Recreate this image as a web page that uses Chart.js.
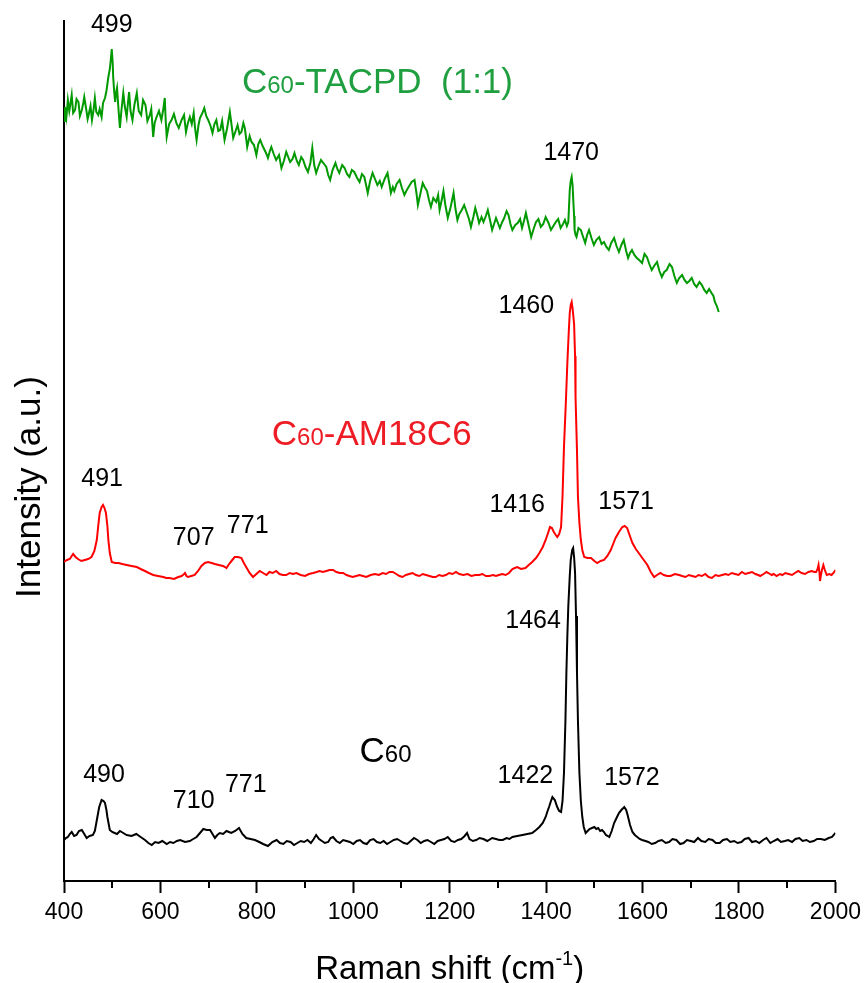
<!DOCTYPE html>
<html>
<head>
<meta charset="utf-8">
<script src="https://cdn.jsdelivr.net/npm/chart.js@4.4.1/dist/chart.umd.min.js"></script>
<style>
  html, body { margin: 0; padding: 0; background: #fff; }
  #wrap { width: 867px; height: 983px; position: relative; }
</style>
</head>
<body>
<div id="wrap"><canvas id="raman"></canvas></div>
<script>
// spectra as [Raman shift (cm-1), intensity (a.u.)]
// C60 (black)
const c60 = [
  [400,41],[404,43],[408,44],[412,47],[416,49],[421,45],[426,46],[431,50],[437,51],[442,47],
  [447,43],[453,45],[460,46],[464,50],[467,58],[470,66],[473,74],[478,81],[482,80],[485,78],
  [488,71],[490,64],[495,51],[500,49],[505,48],[510,47],[516,50],[523,48],[530,46],[540,45],
  [550,47],[559,44],[568,41],[575,38],[582,36],[589,39],[596,38],[604,40],[613,37],[620,39],
  [627,38],[634,40],[641,41],[651,39],[661,40],[668,42],[675,44],[682,48],[689,52],[696,51],
  [703,51],[708,47],[713,43],[718,46],[723,48],[730,47],[737,50],[742,49],[747,48],[755,50],
  [763,53],[770,47],[778,43],[787,42],[796,41],[805,39],[813,37],[818,36],[823,35],[832,39],
  [841,41],[848,38],[855,37],[862,40],[870,39],[877,36],[884,38],[891,40],[898,39],[905,41],
  [912,38],[918,42],[923,46],[929,42],[935,40],[941,38],[948,39],[953,43],[958,44],[965,40],
  [972,38],[979,41],[986,40],[993,39],[1000,37],[1007,40],[1014,41],[1021,38],[1028,37],[1035,41],
  [1042,42],[1049,39],[1056,38],[1063,40],[1070,37],[1077,39],[1084,41],[1091,42],[1098,40],[1105,38],
  [1112,37],[1119,40],[1126,43],[1133,41],[1140,38],[1147,40],[1154,41],[1161,39],[1168,37],[1175,40],
  [1182,41],[1189,42],[1196,44],[1203,40],[1210,39],[1217,41],[1224,42],[1231,45],[1236,48],[1241,42],
  [1248,40],[1255,41],[1262,43],[1270,42],[1278,40],[1288,43],[1296,42],[1303,41],[1310,41],[1318,43],
  [1324,42],[1330,44],[1340,45],[1351,46],[1361,47],[1371,48],[1379,51],[1386,54],[1393,58],[1399,64],
  [1403,70],[1406,74],[1410,80],[1413,84],[1418,81],[1423,74],[1427,70],[1431,69],[1434,80],[1437,108],
  [1440,160],[1442,208],[1444,245],[1446,275],[1449,305],[1451,321],[1454,331],[1456,333],[1458,324],[1460,308],
  [1462,265],[1464,208],[1466,160],[1469,108],[1472,80],[1475,64],[1478,54],[1482,48],[1486,50],[1490,52],
  [1495,53],[1500,54],[1504,52],[1508,53],[1512,50],[1516,51],[1520,49],[1524,46],[1528,45],[1531,44],
  [1536,50],[1541,58],[1546,63],[1551,68],[1556,71],[1562,74],[1566,71],[1569,66],[1574,56],[1579,49],
  [1584,46],[1589,44],[1594,42],[1599,41],[1606,40],[1612,39],[1619,37],[1626,38],[1633,40],[1640,41],
  [1648,38],[1655,39],[1662,42],[1670,41],[1678,37],[1685,38],[1692,41],[1700,40],[1707,39],[1715,43],
  [1722,40],[1730,39],[1737,42],[1745,41],[1752,38],[1760,38],[1767,41],[1775,42],[1782,39],[1790,40],
  [1797,38],[1805,39],[1812,42],[1820,43],[1827,39],[1835,40],[1842,38],[1850,41],[1857,43],[1865,38],
  [1872,40],[1880,42],[1887,39],[1895,40],[1902,41],[1910,39],[1917,42],[1925,43],[1932,40],[1940,41],
  [1947,39],[1955,40],[1962,42],[1970,42],[1978,41],[1986,43],[1993,44],[2000,48]
];

// C60-AM18C6 (red)
const am18c6 = [
  [400,319],[406,321],[412,322],[416,325],[419,327],[424,324],[429,322],[436,320],[443,321],[450,322],
  [457,324],[463,330],[468,341],[471,355],[474,368],[478,374],[481,376],[484,373],[487,368],[490,355],
  [492,341],[495,328],[499,319],[506,318],[513,318],[521,317],[530,316],[540,315],[551,314],[559,312],
  [568,310],[576,308],[585,306],[595,305],[606,304],[612,303],[619,303],[628,302],[637,304],[644,305],
  [649,307],[651,308],[654,305],[657,304],[664,305],[671,306],[678,310],[685,315],[692,318],[699,319],
  [706,318],[713,317],[721,316],[730,315],[734,314],[737,313],[741,316],[744,318],[749,321],[754,324],
  [761,324],[768,323],[773,318],[779,313],[785,308],[792,304],[799,307],[806,310],[813,308],[820,306],
  [826,309],[833,308],[840,310],[847,307],[854,306],[861,306],[868,308],[875,307],[882,308],[891,306],
  [900,305],[908,307],[917,308],[924,309],[930,310],[937,309],[944,310],[951,311],[958,311],[965,309],
  [972,308],[979,308],[986,306],[992,305],[999,304],[1006,305],[1013,306],[1020,305],[1027,304],[1036,306],
  [1045,307],[1053,306],[1061,308],[1068,307],[1075,309],[1082,309],[1089,307],[1096,305],[1102,304],[1109,306],
  [1116,307],[1123,308],[1130,306],[1137,305],[1144,307],[1151,306],[1158,305],[1165,304],[1171,304],[1178,306],
  [1185,305],[1192,306],[1199,308],[1206,307],[1213,309],[1220,307],[1228,306],[1237,307],[1245,305],[1253,306],
  [1261,306],[1268,307],[1275,305],[1282,305],[1290,306],[1296,305],[1302,306],[1309,307],[1316,306],[1323,308],
  [1330,312],[1335,313],[1340,314],[1348,312],[1357,313],[1364,316],[1371,319],[1379,323],[1386,328],[1393,334],
  [1399,341],[1404,348],[1408,354],[1412,353],[1416,349],[1420,346],[1423,344],[1427,347],[1431,354],[1434,385],
  [1437,434],[1441,480],[1444,518],[1447,550],[1449,568],[1451,576],[1453,579],[1455,572],[1458,557],[1460,525],
  [1461,484],[1464,430],[1466,384],[1469,358],[1472,341],[1475,331],[1479,324],[1486,323],[1493,323],[1500,320],
  [1506,318],[1513,320],[1520,321],[1527,325],[1534,331],[1539,337],[1544,343],[1551,349],[1558,354],[1563,355],
  [1568,353],[1573,346],[1579,338],[1586,332],[1592,328],[1601,322],[1610,316],[1617,309],[1624,304],[1630,306],
  [1637,308],[1644,306],[1651,305],[1658,305],[1667,307],[1676,306],[1682,305],[1689,304],[1696,306],[1703,305],
  [1710,304],[1716,306],[1723,305],[1730,307],[1737,304],[1744,303],[1751,306],[1758,305],[1765,306],[1772,307],
  [1778,306],[1785,308],[1792,307],[1799,306],[1806,309],[1813,307],[1820,308],[1827,309],[1834,307],[1840,306],
  [1844,305],[1851,307],[1857,309],[1861,308],[1868,306],[1872,307],[1878,305],[1885,307],[1890,306],[1896,308],
  [1903,307],[1910,306],[1916,308],[1923,310],[1930,308],[1937,307],[1944,309],[1951,310],[1956,309],[1960,309],
  [1963,312],[1965,316],[1967,308],[1968,300],[1970,306],[1972,311],[1975,316],[1978,311],[1982,306],[1987,307],
  [1992,306],[1996,308],[2000,311]
];

// C60-TACPD (1:1) (green)
const tacpd = [
  [400,760],[402,774],[405,764],[408,781],[411,770],[413,776],[416,786],[419,768],[423,771],[426,782],
  [430,779],[433,765],[437,771],[440,778],[442,784],[446,772],[449,762],[451,766],[455,775],[458,761],
  [461,770],[464,783],[467,769],[471,766],[474,772],[478,764],[481,778],[485,783],[488,790],[492,804],
  [495,812],[497,821],[499,832],[501,818],[502,804],[504,790],[506,779],[508,788],[510,793],[513,772],
  [516,753],[519,770],[523,788],[526,775],[530,764],[533,780],[535,789],[538,770],[542,761],[546,776],
  [551,788],[555,770],[560,766],[564,781],[569,776],[573,760],[578,766],[581,772],[585,744],[588,758],
  [592,764],[597,770],[602,761],[606,772],[609,783],[611,760],[613,744],[618,757],[623,761],[628,767],
  [633,758],[638,753],[644,761],[649,766],[653,749],[657,758],[661,764],[665,757],[669,768],[672,752],
  [675,741],[679,756],[682,763],[687,768],[691,773],[695,765],[699,761],[704,755],[708,748],[712,757],
  [716,761],[720,750],[724,751],[728,760],[733,741],[738,752],[744,769],[747,758],[751,743],[756,750],
  [760,756],[764,747],[768,749],[772,758],[775,753],[778,742],[780,734],[785,745],[789,739],[794,736],
  [799,726],[803,737],[807,741],[812,735],[816,731],[820,727],[823,723],[827,730],[830,734],[835,727],
  [840,721],[846,726],[851,713],[856,720],[861,729],[865,724],[869,719],[874,722],[878,728],[883,720],
  [887,716],[892,724],[896,721],[901,714],[906,709],[911,718],[915,733],[919,716],[923,708],[928,715],
  [933,721],[938,718],[944,714],[948,706],[952,701],[957,711],[963,718],[967,712],[971,708],[977,716],
  [982,713],[987,707],[992,704],[997,711],[1002,709],[1008,703],[1013,699],[1018,707],[1023,704],[1027,695],
  [1030,688],[1035,700],[1040,708],[1045,702],[1050,696],[1055,700],[1059,694],[1065,702],[1071,708],[1075,697],
  [1078,688],[1082,694],[1085,690],[1090,697],[1096,701],[1101,693],[1106,686],[1111,691],[1116,695],[1121,699],
  [1127,701],[1131,688],[1134,676],[1139,687],[1144,698],[1148,694],[1153,690],[1157,681],[1161,674],[1166,683],
  [1172,679],[1176,686],[1179,671],[1183,680],[1187,690],[1191,676],[1196,663],[1202,674],[1208,688],[1212,672],
  [1216,661],[1220,667],[1225,671],[1230,676],[1235,669],[1240,662],[1244,654],[1249,664],[1253,673],[1257,666],
  [1261,658],[1266,664],[1270,659],[1275,665],[1279,671],[1284,660],[1288,651],[1292,657],[1296,663],[1300,658],
  [1304,653],[1309,659],[1313,663],[1318,670],[1322,666],[1326,657],[1330,651],[1336,656],[1341,658],[1346,662],
  [1350,653],[1354,660],[1358,668],[1364,655],[1369,644],[1374,652],[1379,659],[1384,662],[1389,654],[1394,657],
  [1399,664],[1405,658],[1410,651],[1415,655],[1420,659],[1425,662],[1430,653],[1435,657],[1439,661],[1443,655],
  [1446,659],[1449,691],[1451,700],[1453,704],[1455,695],[1456,684],[1458,665],[1459,651],[1461,646],[1463,644],
  [1467,653],[1472,651],[1476,645],[1481,638],[1485,646],[1489,651],[1494,643],[1499,636],[1504,641],[1510,644],
  [1515,637],[1520,639],[1525,634],[1530,631],[1535,638],[1541,643],[1546,635],[1551,629],[1556,636],[1561,641],
  [1566,630],[1570,623],[1574,628],[1578,631],[1583,626],[1588,623],[1593,621],[1599,618],[1604,627],[1609,624],
  [1614,617],[1619,611],[1624,615],[1630,619],[1635,610],[1640,604],[1645,609],[1650,611],[1656,617],[1661,614],
  [1666,605],[1671,598],[1676,603],[1682,606],[1687,601],[1692,598],[1697,600],[1702,603],[1707,597],[1712,594],
  [1718,599],[1723,596],[1728,591],[1733,588],[1738,592],[1743,588],[1747,585],[1750,579],[1754,575],[1758,569]
];

const xTicks = [400,600,800,1000,1200,1400,1600,1800,2000];
const xMinor = [500,700,900,1100,1300,1500,1700,1900];

// peak labels (text, shift, intensity)
const peakLabels = [
  ['499', 499, 856], ['1470', 1452, 728],
  ['1460', 1359, 575], ['1416', 1340, 376], ['1571', 1566, 379],
  ['491', 479, 402], ['707', 669, 343], ['771', 781, 355],
  ['1464', 1373, 260], ['1422', 1357, 105], ['1572', 1578, 103],
  ['490', 483, 106], ['710', 669, 80], ['771', 777, 96]
];
// sample names: C + small "60" + rest
const names = [
  ['-TACPD  (1:1)', 769, 788, '#1f9f3f'],
  ['-AM18C6', 831, 436, '#ee1c24'],
  ['', 1013, 119, '#000']
];

const FONT = '"Liberation Sans", Arial, sans-serif';

const toPts = arr => arr.map(p => ({x: p[0], y: p[1]}));

const decor = {
  id: 'decor',
  afterDraw(chart) {
    const {ctx, scales: {x, y}} = chart;
    ctx.save();
    // minor ticks
    ctx.strokeStyle = '#000';
    ctx.lineWidth = 2;
    xMinor.forEach(v => {
      const px = Math.round(x.getPixelForValue(v));
      ctx.beginPath();
      ctx.moveTo(px, y.bottom);
      ctx.lineTo(px, y.bottom + 7);
      ctx.stroke();
    });
    // peak labels
    ctx.fillStyle = '#000';
    ctx.font = '25px ' + FONT;
    ctx.textAlign = 'center';
    ctx.textBaseline = 'middle';
    peakLabels.forEach(([t, sx, sy]) => {
      ctx.fillText(t, x.getPixelForValue(sx), y.getPixelForValue(sy));
    });
    // sample names
    ctx.textAlign = 'left';
    ctx.textBaseline = 'alphabetic';
    names.forEach(([rest, sx, sy, col]) => {
      let px = x.getPixelForValue(sx);
      const py = y.getPixelForValue(sy);
      ctx.fillStyle = col;
      ctx.font = '35px ' + FONT;
      ctx.fillText('C', px, py);
      px += ctx.measureText('C').width;
      ctx.font = '24px ' + FONT;
      ctx.fillText('60', px, py);
      px += ctx.measureText('60').width;
      ctx.font = '35px ' + FONT;
      ctx.fillText(rest, px, py);
    });
    // x title with superscript
    ctx.fillStyle = '#000';
    const t1 = 'Raman shift (cm', sup = '-1', t2 = ')';
    ctx.font = '33px ' + FONT;
    const w1 = ctx.measureText(t1).width, w3 = ctx.measureText(t2).width;
    ctx.font = '20px ' + FONT;
    const w2 = ctx.measureText(sup).width;
    let tx = (x.left + x.right) / 2 - (w1 + w2 + w3) / 2;
    const ty = 979;
    ctx.font = '33px ' + FONT;
    ctx.fillText(t1, tx, ty);
    tx += w1;
    ctx.font = '20px ' + FONT;
    ctx.fillText(sup, tx, ty - 14);
    tx += w2;
    ctx.font = '33px ' + FONT;
    ctx.fillText(t2, tx, ty);
    // y title
    ctx.font = '35px ' + FONT;
    ctx.translate(30, 487);
    ctx.rotate(-Math.PI / 2);
    ctx.textAlign = 'center';
    ctx.textBaseline = 'middle';
    ctx.fillText('Intensity (a.u.)', 0, 0);
    ctx.restore();
  }
};

const chart = new Chart(document.querySelector('#raman'), {
  type: 'line',
  data: {
    datasets: [
      {label: 'C60', data: toPts(c60), borderColor: '#000000', borderWidth: 2},
      {label: 'C60-AM18C6', data: toPts(am18c6), borderColor: '#ff0000', borderWidth: 2},
      {label: 'C60-TACPD (1:1)', data: toPts(tacpd), borderColor: '#009a00', borderWidth: 2}
    ]
  },
  options: {
    responsive: true,
    maintainAspectRatio: false,
    animation: false,
    events: [],
    layout: {padding: {top: 21, right: 30, left: 0, bottom: 0}},
    elements: {point: {radius: 0}, line: {tension: 0}},
    plugins: {legend: {display: false}, tooltip: {enabled: false}},
    scales: {
      x: {
        type: 'linear',
        min: 400,
        max: 2000,
        afterBuildTicks: s => { s.ticks = xTicks.map(v => ({value: v})); },
        afterFit: s => { s.height = 102; },
        ticks: {color: '#000', font: {family: FONT, size: 23}, padding: 6, maxRotation: 0,
                callback: v => String(v)},
        grid: {drawOnChartArea: false, tickLength: 12, tickColor: '#000', tickWidth: 2},
        border: {color: '#000', width: 2}
      },
      y: {
        min: 0,
        max: 860,
        afterFit: s => { s.width = 64; },
        ticks: {display: false},
        grid: {drawOnChartArea: false, drawTicks: false},
        border: {color: '#000', width: 2}
      }
    }
  },
  plugins: [decor]
});
</script>
</body>
</html>
